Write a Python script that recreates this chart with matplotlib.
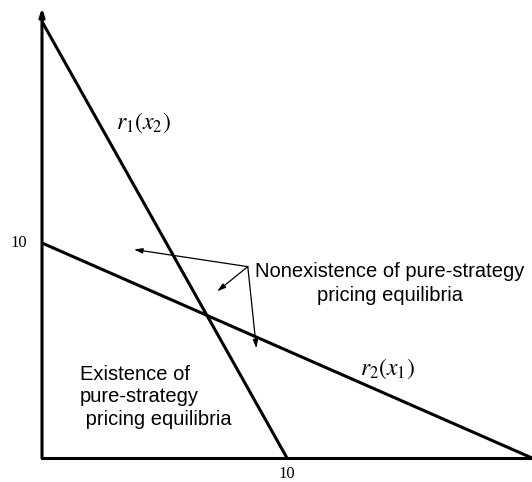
import matplotlib
matplotlib.use("Agg")
import matplotlib.pyplot as plt

# Data (reaction functions as line end points)
r1_x = [0, 10]
r1_y = [20.3, 0]
r2_x = [0, 20]
r2_y = [10, 0]
tick_value = 10
label_text = "Nonexistence of pure-strategy\npricing equilibria"
exist_text = "Existence of\npure-strategy\n pricing equilibria"
arrow_origin = (8.4, 8.9)
arrow_targets = [(3.75, 9.7), (7.15, 7.75), (8.75, 5.1)]

plt.rcParams['mathtext.fontset'] = 'stix'
W, H = 532, 482
fig = plt.figure(figsize=(W/100, H/100), dpi=100)
x0, x1 = 42, 532
y0, y1 = 458, 8
ax = fig.add_axes([x0/W, (H-y0)/H, (x1-x0)/W, (y0-y1)/H])
ax.set_xlim(0, 20)
ax.set_ylim(0, (y0-y1)/21.5)
for s in ['top', 'right', 'left']:
    ax.spines[s].set_visible(False)
ax.spines['bottom'].set_linewidth(2.2)
ax.set_xticks([])
ax.set_yticks([])
ax.annotate('', xy=(0, ax.get_ylim()[1]), xytext=(0, 0),
            arrowprops=dict(arrowstyle='-|>,head_width=0.15,head_length=0.45', lw=2.2, color='black',
                            shrinkA=0, shrinkB=0), annotation_clip=False)

ax.plot(r1_x, r1_y, color='black', lw=2.2, solid_capstyle='butt', clip_on=False)
ax.plot(r2_x, r2_y, color='black', lw=2.2, solid_capstyle='butt', clip_on=False)

ax.text(-0.62, tick_value, str(tick_value), fontsize=12, family='Liberation Serif', ha='right', va='center')
ax.text(tick_value, -0.35, str(tick_value), fontsize=12, family='Liberation Serif', ha='center', va='top')

ax.text(3.0, 15.6, r'$r_1(x_2)$', fontsize=17, ha='left', va='center')
ax.text(13.0, 4.15, r'$r_2(x_1)$', fontsize=17, ha='left', va='center')

ax.text(14.2, 8.1, label_text, fontsize=14.5, family='Liberation Sans', ha='center', va='center',
        linespacing=1.33)
ax.text(1.55, 2.84, exist_text, fontsize=14.5, family='Liberation Sans', ha='left', va='center',
        multialignment='left', linespacing=1.25)

for t in arrow_targets:
    ax.annotate('', xy=t, xytext=arrow_origin,
                arrowprops=dict(arrowstyle='-|>,head_width=0.15,head_length=0.5', lw=0.9, color='black',
                                shrinkA=0, shrinkB=0))

fig.savefig('out.png', dpi=100)
